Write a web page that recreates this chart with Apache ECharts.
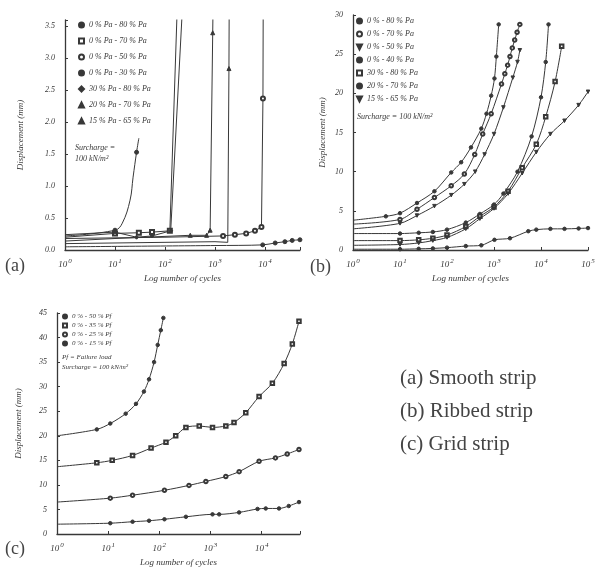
<!DOCTYPE html>
<html><head><meta charset="utf-8">
<script src="https://cdn.jsdelivr.net/npm/echarts@6/dist/echarts.min.js"></script>
<style>html,body{margin:0;padding:0;background:#fff}#c{width:604px;height:568px}</style>
</head><body><div id="c"></div>
<script>
// ---------- Panel (a) Smooth strip: [cycles, displacement mm, (0 = no marker)] ----------
const aNames = ['0 % Pa - 80 % Pa','0 % Pa - 70 % Pa','0 % Pa - 50 % Pa','0 % Pa - 30 % Pa','30 % Pa - 80 % Pa','20 % Pa - 70 % Pa','15 % Pa - 65 % Pa'];
const aSymbols = ['circle','emptyRect','emptyCircle','circle','diamond','triangle','triangle'];
const a1 = [[1,0.22,0],[10,0.31],[14,0.42,0],[20,0.78,0],[23,1.14,0],[27,1.53],[30,1.75,0]];
const a2 = [[1,0.2,0],[10,0.26],[30,0.27],[55,0.28],[125,0.3],[174,3.7,0]];
const a3 = [[1,0.18,0],[100,0.2,0],[1450,0.22],[2500,0.24],[4200,0.26],[6300,0.3],[8500,0.36],[9100,2.37],[9200,3.7,0]];
const a4 = [[1,0.05,0],[1000,0.07,0],[9000,0.08],[16000,0.11],[25000,0.13],[35000,0.15],[50000,0.16]];
const a5 = [[1,0.24,0],[10,0.28],[27,0.2],[55,0.22],[130,0.3],[220,3.7,0]];
const a6 = [[1,0.14,0],[10,0.18,0],[320,0.23],[680,0.23],[800,0.31],[900,3.4],[910,3.7,0]];
const a7 = [[1,0.1,0],[100,0.12,0],[1000,0.13,0],[1800,0.12,0],[1900,2.84],[1920,3.7,0]];
const aData = [a1,a2,a3,a4,a5,a6,a7];
const aSmooth = [0.4,0,0,0.3,0,0,0];

// ---------- Panel (b) Ribbed strip ----------
const bNames = ['0 % - 80 % Pa','0 % - 70 % Pa','0 % - 50 % Pa','0 % - 40 % Pa','30 % - 80 % Pa','20 % - 70 % Pa','15 % - 65 % Pa'];
const bSymbols = ['circle','emptyCircle','path://M0,0 L10,0 L5,10 Z','circle','emptyRect','circle','path://M0,0 L10,0 L5,10 Z'];
const b1 = [[1,3.8,0],[5,4.3],[10,4.7],[23,6.0],[54,7.5],[123,9.9],[200,11.2],[324,13.1],[537,15.5],[692,17.4],[871,19.7],[1023,21.9],[1122,24.7],[1259,28.8]];
const b2 = [[1,3.3,0],[10,3.9],[23,5.2],[54,6.7],[123,8.2],[234,9.7],[389,12.2],[575,14.8],[871,17.4],[1445,21.2],[1700,22.5],[1950,23.6],[2188,24.7],[2450,25.8],[2754,26.8],[3100,27.8],[3548,28.8]];
const b3 = [[1,2.7,0],[10,3.4],[23,4.4],[54,5.6],[123,7.0],[234,8.4],[398,10.0],[631,12.2],[1000,14.8],[1585,18.2],[2512,22.0],[3162,24.0],[3548,25.5]];
const b4 = [[1,2.1,0],[10,2.1],[25,2.2],[50,2.3],[100,2.6],[251,3.5],[501,4.6],[1000,5.8],[1585,7.2],[3162,10.0],[6310,14.5],[10000,19.5],[12589,24],[14454,28.8]];
const b5 = [[1,1.2,0],[10,1.2],[25,1.3],[50,1.5],[100,1.9],[251,3.0],[501,4.3],[1000,5.5],[1995,7.5],[3981,10.5],[7943,13.5],[12589,17],[19953,21.5],[27542,26]];
const b6 = [[1,0.1,0],[10,0.1],[25,0.15],[50,0.2],[100,0.3],[251,0.5],[537,0.6],[1023,1.3],[2188,1.5],[5370,2.4],[7943,2.6],[15849,2.7],[31623,2.7],[63096,2.75],[100000,2.8]];
const b7 = [[1,0.6,0],[10,0.7],[25,0.9],[50,1.2],[100,1.6],[251,2.7],[501,4.0],[1000,5.3],[1995,7.2],[3981,9.8],[7943,12.5],[15849,14.8],[31623,16.5],[63096,18.5],[100000,20.2]];
const bData = [b1,b2,b3,b4,b5,b6,b7];

// ---------- Panel (c) Grid strip ----------
const cNames = ['0 % - 50 % Pf','0 % - 35 % Pf','0 % - 25 % Pf','0 % - 15 % Pf'];
const cSymbols = ['circle','emptyRect','emptyCircle','circle'];
const c1 = [[1,20,0],[6,21.3],[11,22.5],[22,24.5],[35,26.5],[50,29],[63,31.5],[79,35],[93,38.5],[107,41.5],[120,44]];
const c2 = [[1,13.7,0],[6,14.5],[12,15],[30,16],[69,17.5],[135,18.7],[209,20],[331,21.7],[603,22],[1096,21.7],[1995,22],[2884,22.7],[4898,24.7],[8913,28],[16218,30.7],[27542,34.7],[39811,38.7],[53703,43.3]];
const c3 = [[1,6.5,0],[11,7.3],[30,7.9],[126,8.9],[380,9.9],[813,10.7],[1995,11.7],[3631,12.7],[8913,14.8],[18621,15.5],[31623,16.3],[53703,17.2]];
const c4 = [[1,2.0,0],[11,2.2],[30,2.5],[63,2.7],[126,3.0],[331,3.5],[1096,4.0],[1479,4.0],[3631,4.4],[8318,5.1],[12023,5.2],[21878,5.2],[33884,5.7],[53703,6.5]];
const cData = [c1,c2,c3,c4];

const INK = '#383838';
const SERIF = '"Liberation Serif", "DejaVu Serif", serif';

function xAxisFor(gi, maxV) {
  return {
    type: 'log', logBase: 10, gridIndex: gi, min: 1, max: maxV,
    name: 'Log number of cycles', nameLocation: 'middle', nameGap: 24,
    nameTextStyle: {fontFamily: SERIF, fontStyle: 'italic', fontSize: 9, color: INK},
    axisLine: {lineStyle: {color: INK, width: 1.3}},
    axisTick: {show: true, inside: true, length: 3, lineStyle: {color: INK}},
    minorTick: {show: false}, splitLine: {show: false},
    axisLabel: {
      margin: 8, color: INK, showMaxLabel: true,
      formatter: v => {
        const l = Math.log10(v), e = Math.round(l);
        if (Math.abs(l - e) > 1e-6) return '';
        return '{b|10}{s|' + e + '}';
      },
      rich: {
        b: {fontFamily: SERIF, fontStyle: 'italic', fontSize: 9, color: INK, lineHeight: 11, verticalAlign: 'bottom'},
        s: {fontFamily: SERIF, fontStyle: 'italic', fontSize: 7, color: INK, lineHeight: 11, verticalAlign: 'top', padding: [0, 0, 0, 1]}
      }
    }
  };
}
function yAxisFor(gi, maxV, interval, dec, gap) {
  return {
    type: 'value', gridIndex: gi, min: 0, max: maxV, interval: interval,
    name: 'Displacement (mm)', nameLocation: 'middle', nameGap: gap, nameRotate: 90,
    nameTextStyle: {fontFamily: SERIF, fontStyle: 'italic', fontSize: 9, color: INK},
    axisLine: {show: true, lineStyle: {color: INK, width: 1.3}},
    axisTick: {show: true, inside: true, length: 3, lineStyle: {color: INK}},
    splitLine: {show: false},
    axisLabel: {
      margin: 10, color: INK, fontFamily: SERIF, fontStyle: 'italic', fontSize: 8,
      formatter: v => {
        const k = v / interval;
        if (Math.abs(k - Math.round(k)) > 1e-6) return '';
        return dec ? v.toFixed(1) : String(v);
      }
    }
  };
}
function mkSeries(names, symbols, datas, gi, size, smooths) {
  return datas.map((d, i) => ({
    name: names[i], type: 'line', xAxisIndex: gi, yAxisIndex: gi,
    smooth: smooths ? smooths[i] : 0.3, clip: true, symbol: symbols[i], symbolSize: size,
    showAllSymbol: true,
    lineStyle: {color: INK, width: 1},
    itemStyle: {color: INK, borderColor: INK, borderWidth: 1},
    emphasis: {disabled: true},
    data: d.map(p => p[2] === 0 ? {value: [p[0], p[1]], symbol: 'none'} : {value: [p[0], p[1]]})
  }));
}
function mkLegend(names, symbols, left, top, gap, fs, isz) {
  return {
    left: left, top: top, orient: 'vertical', itemGap: gap, itemWidth: isz, itemHeight: isz,
    selectedMode: false, padding: 0,
    textStyle: {fontFamily: SERIF, fontStyle: 'italic', fontSize: fs, color: INK},
    data: names.map((n, i) => ({name: n, icon: symbols[i]}))
  };
}

const chart = echarts.init(document.getElementById('c'), null, {renderer: 'canvas'});
chart.setOption({
  backgroundColor: '#ffffff',
  animation: false,
  grid: [
    {left: 65, top: 20, width: 235, height: 230},
    {left: 353, top: 15, width: 235, height: 235},
    {left: 57, top: 313, width: 243, height: 222}
  ],
  xAxis: [xAxisFor(0, 50119), xAxisFor(1, 100000), xAxisFor(2, 56234)],
  yAxis: [yAxisFor(0, 3.6, 0.5, true, 40), yAxisFor(1, 30, 5, false, 26), yAxisFor(2, 45, 5, false, 34)],
  legend: [
    mkLegend(aNames, aSymbols, 78, 21, 8, 8, 5),
    mkLegend(bNames, bSymbols, 356, 17, 5, 8, 5),
    mkLegend(cNames, cSymbols, 62, 313, 2, 7, 4)
  ],
  graphic: [
    {type: 'text', left: 75, top: 142, style: {text: 'Surcharge =\n100 kN/m²', font: 'italic 8px ' + SERIF, fill: INK, lineHeight: 11}},
    {type: 'text', left: 357, top: 113, style: {text: 'Surcharge = 100 kN/m²', font: 'italic 8px ' + SERIF, fill: INK}},
    {type: 'text', left: 62, top: 352, style: {text: 'Pf = Failure load\nSurcharge = 100 kN/m²', font: 'italic 7px ' + SERIF, fill: INK, lineHeight: 10}},
    {type: 'text', left: 5, top: 257, style: {text: '(a)', font: '18px ' + SERIF, fill: '#444'}},
    {type: 'text', left: 310, top: 258, style: {text: '(b)', font: '18px ' + SERIF, fill: '#444'}},
    {type: 'text', left: 5, top: 540, style: {text: '(c)', font: '18px ' + SERIF, fill: '#444'}},
    {type: 'text', left: 400, top: 368, style: {text: '(a) Smooth strip', font: '21px ' + SERIF, fill: '#444'}},
    {type: 'text', left: 400, top: 401, style: {text: '(b) Ribbed strip', font: '21px ' + SERIF, fill: '#444'}},
    {type: 'text', left: 400, top: 434, style: {text: '(c) Grid strip', font: '21px ' + SERIF, fill: '#444'}}
  ],
  series: [].concat(
    mkSeries(aNames, aSymbols, aData, 0, 4, aSmooth),
    mkSeries(bNames, bSymbols, bData, 1, 3.5),
    mkSeries(cNames, cSymbols, cData, 2, 3.5)
  )
});
</script></body></html>
